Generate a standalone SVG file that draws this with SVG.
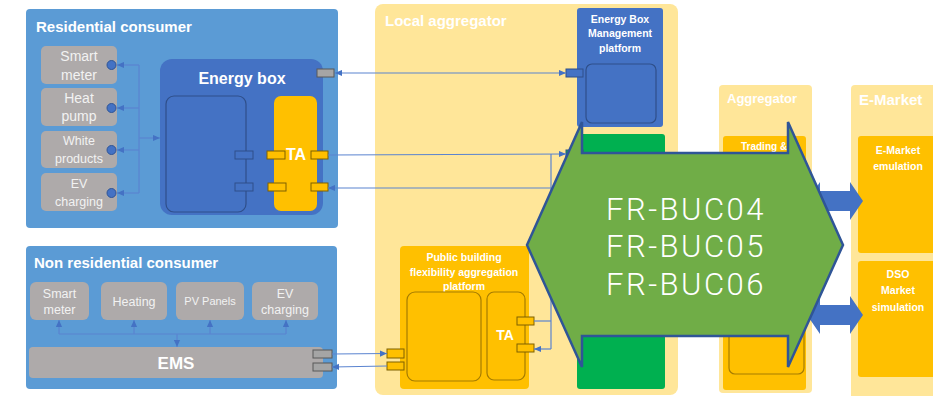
<svg xmlns="http://www.w3.org/2000/svg" width="933" height="396" viewBox="0 0 933 396">
  <defs>
    <marker id="arr" viewBox="0 0 8 8" refX="8" refY="4" markerWidth="7" markerHeight="7" markerUnits="userSpaceOnUse" orient="auto-start-reverse">
      <path d="M0,0.5 L8,4 L0,7.5 Z" fill="#4472C4"/>
    </marker>
    <style>
      text { font-family: "Liberation Sans", Arial, sans-serif; fill: #FFFFFF; }
      .title { font-size: 15px; font-weight: bold; }
      .big { font-size: 16px; font-weight: bold; }
      .small { font-size: 10.5px; font-weight: bold; text-anchor: middle; }
      .dev { font-size: 14px; text-anchor: middle; fill: #F2F2F2; }
      .dev2 { font-size: 12.5px; text-anchor: middle; fill: #F2F2F2; }
      .consumer { fill: #5B9BD5; }
      .device { fill: #AEAAAA; }
      .lane { fill: #FFE699; }
      .gold { fill: #FFC000; }
      .blue { fill: #4472C4; }
      .inner-b { fill: none; stroke: #2F4F8A; stroke-width: 1.2; }
      .inner-y { fill: none; stroke: #A67C00; stroke-width: 1.2; }
      .port-b { fill: #4472C4; stroke: #2F4F8A; stroke-width: 1; }
      .port-y { fill: #FFC000; stroke: #7F6000; stroke-width: 1; }
      .port-g { fill: #A5A5A5; stroke: #595959; stroke-width: 1; }
      .port-n { fill: #00B050; stroke: #2F4F8A; stroke-width: 1; }
      .dot { fill: #4472C4; stroke: #2F5597; stroke-width: 1; }
      .link { fill: none; stroke: #5B84D0; stroke-width: 1.2; }
      .hexlabel { font-family: Roboto, "Liberation Sans", sans-serif; font-size: 31px; font-weight: 300; letter-spacing: 2.5px; text-anchor: middle; }
    </style>
  </defs>

  <rect width="933" height="396" fill="#FFFFFF"/>

  <!-- Residential consumer -->
  <g id="residential-consumer">
    <rect class="consumer" x="26" y="9" width="312" height="219" rx="4"/>
    <text class="title" x="36" y="32">Residential consumer</text>
  </g>
  <g id="res-smart-meter">
    <rect class="device" x="41" y="46" width="76" height="38" rx="5"/>
    <text class="dev" x="79" y="61">Smart</text>
    <text class="dev" x="79" y="80">meter</text>
  </g>
  <g id="res-heat-pump">
    <rect class="device" x="41" y="88" width="76" height="38" rx="5"/>
    <text class="dev" x="79" y="103">Heat</text>
    <text class="dev" x="79" y="121">pump</text>
  </g>
  <g id="res-white-products">
    <rect class="device" x="41" y="131" width="76" height="37" rx="5"/>
    <text class="dev2" x="79" y="145">White</text>
    <text class="dev2" x="79" y="163">products</text>
  </g>
  <g id="res-ev-charging">
    <rect class="device" x="41" y="173" width="76" height="38" rx="5"/>
    <text class="dev2" x="79" y="188">EV</text>
    <text class="dev2" x="79" y="206">charging</text>
  </g>
  <g id="res-device-ports">
    <circle class="dot" cx="111.5" cy="65" r="4.5"/>
    <circle class="dot" cx="111.5" cy="108" r="4.5"/>
    <circle class="dot" cx="111.5" cy="150" r="4.5"/>
    <circle class="dot" cx="111.5" cy="193" r="4.5"/>
  </g>

  <g id="energy-box">
    <rect class="blue" x="160" y="59" width="163" height="156" rx="12"/>
    <text class="big" x="242" y="84" text-anchor="middle">Energy box</text>
    <rect class="inner-b" x="166" y="96" width="80" height="116" rx="8"/>
    <rect class="gold" x="274" y="96" width="43" height="115" rx="7"/>
    <text class="big" x="296" y="160" text-anchor="middle">TA</text>
    <rect class="port-b" x="235" y="151" width="18" height="8"/>
    <rect class="port-b" x="235" y="183" width="18" height="8"/>
    <rect class="port-y" x="267" y="151" width="18" height="8"/>
    <rect class="port-y" x="268" y="183" width="18" height="8"/>
    <rect class="port-y" x="311" y="151" width="17" height="8"/>
    <rect class="port-y" x="311" y="183" width="17" height="8"/>
    <rect class="port-g" x="317" y="69" width="17" height="8"/>
  </g>

  <!-- Non residential consumer -->
  <g id="non-residential-consumer">
    <rect class="consumer" x="26" y="246" width="311" height="143" rx="4"/>
    <text class="title" x="34" y="268">Non residential consumer</text>
  </g>
  <g id="nr-smart-meter">
    <rect class="device" x="30" y="282" width="59" height="38" rx="6"/>
    <text class="dev2" x="59.5" y="298">Smart</text>
    <text class="dev2" x="59.5" y="314">meter</text>
  </g>
  <g id="nr-heating">
    <rect class="device" x="101" y="282" width="66" height="38" rx="6"/>
    <text class="dev2" x="134" y="306">Heating</text>
  </g>
  <g id="nr-pv-panels">
    <rect class="device" x="176" y="282" width="68" height="38" rx="6"/>
    <text class="dev2" x="210" y="305" style="font-size:11px">PV Panels</text>
  </g>
  <g id="nr-ev-charging">
    <rect class="device" x="252" y="282" width="66" height="38" rx="6"/>
    <text class="dev2" x="285" y="298">EV</text>
    <text class="dev2" x="285" y="314">charging</text>
  </g>
  <g id="ems">
    <rect class="device" x="29" y="347" width="294" height="31" rx="4"/>
    <text class="big" x="176" y="369" text-anchor="middle" style="font-size:17px">EMS</text>
    <rect class="port-g" x="313" y="350" width="19" height="8"/>
    <rect class="port-g" x="313" y="363" width="19" height="8"/>
  </g>

  <!-- Local aggregator -->
  <g id="local-aggregator">
    <rect class="lane" x="375" y="4" width="303" height="391" rx="8"/>
    <text class="title" x="385" y="26">Local aggregator</text>
  </g>
  <g id="energy-box-management-platform">
    <rect class="blue" x="577" y="8" width="86" height="119" rx="3"/>
    <text class="small" x="620" y="23">Energy Box</text>
    <text class="small" x="620" y="37">Management</text>
    <text class="small" x="620" y="52">platform</text>
    <rect class="inner-b" x="586" y="64" width="70" height="59" rx="6"/>
    <rect class="port-b" x="566" y="69" width="17" height="8"/>
  </g>
  <g id="local-aggregator-platform">
    <rect x="577" y="134" width="88" height="255" rx="3" fill="#00B050"/>
    <rect class="port-n" x="566" y="150" width="17" height="8"/>
  </g>
  <g id="public-building-platform">
    <rect class="gold" x="400" y="246" width="129" height="143" rx="4"/>
    <text class="small" x="464" y="261">Public building</text>
    <text class="small" x="464" y="276">flexibility aggregation</text>
    <text class="small" x="464" y="290">platform</text>
    <rect class="inner-y" x="407" y="292" width="74" height="89" rx="8"/>
    <rect class="inner-y" x="487" y="292" width="38" height="88" rx="7"/>
    <text x="505" y="340" text-anchor="middle" style="font-size:14px;font-weight:bold">TA</text>
    <rect class="port-y" x="387" y="349" width="17" height="9"/>
    <rect class="port-y" x="387" y="362" width="17" height="8"/>
    <rect class="port-y" x="517" y="317" width="17" height="8"/>
    <rect class="port-y" x="517" y="344" width="17" height="8"/>
  </g>

  <!-- Aggregator -->
  <g id="aggregator">
    <rect class="lane" x="719" y="85" width="93" height="308" rx="4"/>
    <text x="727" y="103" style="font-size:13px;font-weight:bold">Aggregator</text>
  </g>
  <g id="trading-platform">
    <rect class="gold" x="723" y="136" width="83" height="254" rx="3"/>
    <text x="741" y="150" style="font-size:10px;font-weight:bold">Trading &amp;</text>
    <rect class="inner-y" x="729" y="220" width="75" height="154" rx="6"/>
  </g>

  <!-- E-Market -->
  <g id="e-market">
    <rect class="lane" x="851" y="85" width="100" height="315" rx="4"/>
    <text x="859" y="105" style="font-size:15px;font-weight:bold">E-Market</text>
  </g>
  <g id="e-market-emulation">
    <rect class="gold" x="858" y="136" width="90" height="117" rx="3"/>
    <text class="small" x="898" y="154">E-Market</text>
    <text class="small" x="898" y="170">emulation</text>
  </g>
  <g id="dso-market-simulation">
    <rect class="gold" x="858" y="261" width="90" height="116" rx="3"/>
    <text class="small" x="898" y="278">DSO</text>
    <text class="small" x="898" y="294">Market</text>
    <text class="small" x="898" y="311">simulation</text>
  </g>

  <!-- Connectors -->
  <g id="connectors">
    <path class="link" d="M139,65 L139,193"/>
    <path class="link" d="M139,65 L117,65" marker-end="url(#arr)"/>
    <path class="link" d="M139,108 L117,108" marker-end="url(#arr)"/>
    <path class="link" d="M139,150 L117,150" marker-end="url(#arr)"/>
    <path class="link" d="M139,193 L117,193" marker-end="url(#arr)"/>
    <path class="link" d="M139,138 L160,138" marker-end="url(#arr)"/>

    <path class="link" d="M59,334 L286,334"/>
    <path class="link" d="M59,334 L59,320" marker-end="url(#arr)"/>
    <path class="link" d="M134,334 L134,320" marker-end="url(#arr)"/>
    <path class="link" d="M210,334 L210,320" marker-end="url(#arr)"/>
    <path class="link" d="M286,334 L286,320" marker-end="url(#arr)"/>
    <path class="link" d="M177,334 L177,347" marker-end="url(#arr)"/>

    <path class="link" d="M332,354 L387,353.5" marker-end="url(#arr)"/>
    <path class="link" d="M387,366 L332,367" marker-end="url(#arr)"/>

    <path class="link" d="M335,73 L566,73" marker-start="url(#arr)" marker-end="url(#arr)"/>
    <path class="link" d="M328,155 L566,154" marker-end="url(#arr)"/>
    <path class="link" d="M551,154 L551,349"/>
    <path class="link" d="M551,188 L328,188" marker-end="url(#arr)"/>
    <path class="link" d="M534,321 L551,321"/>
    <path class="link" d="M551,349 L534,349" marker-end="url(#arr)"/>

    <path d="M807,201 L820,182 L820,191 L850,191 L850,182 L863,201 L850,220 L850,211 L820,211 L820,220 Z" fill="#4472C4"/>
    <path d="M807,315 L820,296 L820,305 L850,305 L850,296 L863,315 L850,334 L850,325 L820,325 L820,334 Z" fill="#4472C4"/>
  </g>

  <!-- Business use case scope -->
  <g id="business-use-cases">
    <path d="M527,245 L582,122 L582,153 L788,153 L788,122 L843,245 L788,367 L788,336 L582,336 L582,367 Z" fill="#70AD47" stroke="#2F5597" stroke-width="2.5" stroke-linejoin="miter"/>
    <text class="hexlabel" x="686" y="220">FR-BUC04</text>
    <text class="hexlabel" x="686" y="257">FR-BUC05</text>
    <text class="hexlabel" x="686" y="295">FR-BUC06</text>
  </g>
</svg>
